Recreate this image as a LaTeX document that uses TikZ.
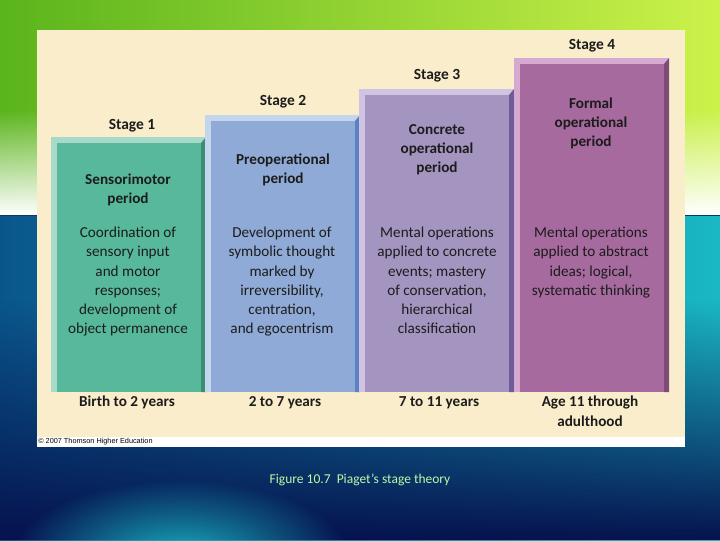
\documentclass[tikz,border=0pt]{standalone}
\usepackage{fontspec}
\setmainfont{Carlito}
\newfontfamily\smallprint{Liberation Sans}
\usetikzlibrary{fadings}
\usepackage{xcolor}

\definecolor{bggreen}{HTML}{5AB41C}
\definecolor{bgdark}{HTML}{34960C}
\definecolor{bglime}{HTML}{CCF24A}
\definecolor{bgblue}{HTML}{0A568C}
\definecolor{bgteal}{HTML}{1AB8C4}
\definecolor{bgnavy}{HTML}{06124E}
\definecolor{panel}{HTML}{FAEDCB}
\definecolor{ink}{HTML}{1C1C1C}
\definecolor{captiongreen}{HTML}{BDF7A4}
\definecolor{oneface}{HTML}{57B89B}
\definecolor{onelight}{HTML}{A7DAC8}
\definecolor{onedark}{HTML}{3F8C74}
\definecolor{twoface}{HTML}{8FAAD6}
\definecolor{twolight}{HTML}{C4D6EE}
\definecolor{twodark}{HTML}{5A82C2}
\definecolor{threeface}{HTML}{A494C0}
\definecolor{threelight}{HTML}{D3C3E3}
\definecolor{threedark}{HTML}{6E5B97}
\definecolor{fourface}{HTML}{A66A9E}
\definecolor{fourlight}{HTML}{D6AAD0}
\definecolor{fourdark}{HTML}{7D4B78}

\tikzfading[name=softglow, inner color=transparent!0, outer color=transparent!100]

\begin{document}
\begin{tikzpicture}[x=0.025cm, y=-0.025cm]
            \tikzstyle{stagelabel} = [font=\fontsize{11}{13}\selectfont\bfseries, text=ink, anchor=base, inner sep=0pt]
            \tikzstyle{period} = [font=\fontsize{10.8}{13.6}\selectfont\bfseries, text=ink, align=center, inner sep=0pt]
            \tikzstyle{about} = [font=\fontsize{10.8}{13.6}\selectfont, text=ink, align=center, anchor=north, inner sep=0pt]
            \tikzstyle{ages} = [period, anchor=north]

            % slide background
            \useasboundingbox (0,0) rectangle (720,540);
            \shade [left color=bggreen, middle color=bgdark, right color=bglime] (0,0) rectangle (720,215);
            \fill [white, path fading=north] (0,110) rectangle (720,215);
            \shade [left color=bgblue, right color=bgteal] (0,215) rectangle (720,540);
            \fill [bgnavy, path fading=north] (0,300) rectangle (720,540);
            \fill [bgteal, path fading=softglow] (180,560) ellipse (170 and 80);
            \draw [bgblue!70!black, line width=0.6pt] (0,215) -- (720,215);

            % chart panel
            \fill [white] (37,30) rectangle (685,447);
            \fill [panel] (37,30) rectangle (685,437);

            % columns: left edge / top / colour
            \foreach \l/\t/\c in {51/137/one, 205/115/two, 359/89/three, 514/58/four} {
                \fill [\c light] (\l,\t) rectangle ({\l+155},392);
                \fill [\c dark] ({\l+150},{\t+6}) -- ({\l+155},\t) -- ({\l+155},392) -- ({\l+150},392) -- cycle;
                \fill [\c face] ({\l+6},{\t+6}) rectangle ({\l+150},392);
            }

            \node [stagelabel] (stage1) at (132,129) {Stage 1};
            \node [stagelabel] (stage2) at (283,105) {Stage 2};
            \node [stagelabel] (stage3) at (437,79) {Stage 3};
            \node [stagelabel] (stage4) at (592,49) {Stage 4};

            \node [period] (sensorimotor) at (128,190) {Sensorimotor\\period};
            \node [period] (preop) at (283,170) {Preoperational\\period};
            \node [period] (concrete) at (437,150) {Concrete\\operational\\period};
            \node [period] (formal) at (591,123) {Formal\\operational\\period};

            \node [about] (sensdesc) at (128,227) {Coordination of\\sensory input\\and motor\\responses;\\development of\\object permanence};
            \node [about] (preopdesc) at (282,227) {Development of\\symbolic thought\\marked by\\irreversibility,\\centration,\\and egocentrism};
            \node [about] (concdesc) at (437,227) {Mental operations\\applied to concrete\\events; mastery\\of conservation,\\hierarchical\\classification};
            \node [about] (formdesc) at (591,227) {Mental operations\\applied to abstract\\ideas; logical,\\systematic thinking};

            \node [ages] (age1) at (127,396) {Birth to 2 years};
            \node [ages] (age2) at (285,396) {2 to 7 years};
            \node [ages] (age3) at (439,396) {7 to 11 years};
            \node [ages] (age4) at (590,396) {Age 11 through\\adulthood};

            \node [anchor=west, inner sep=0pt, font=\smallprint\fontsize{5.2}{6}\selectfont] (copyright) at (38,442) {\textcopyright\ 2007 Thomson Higher Education};
            \node [font=\fontsize{9.6}{11}\selectfont, text=captiongreen] (caption) at (360,480) {Figure 10.7\ \ Piaget’s stage theory};
        \end{tikzpicture}
\end{document}
